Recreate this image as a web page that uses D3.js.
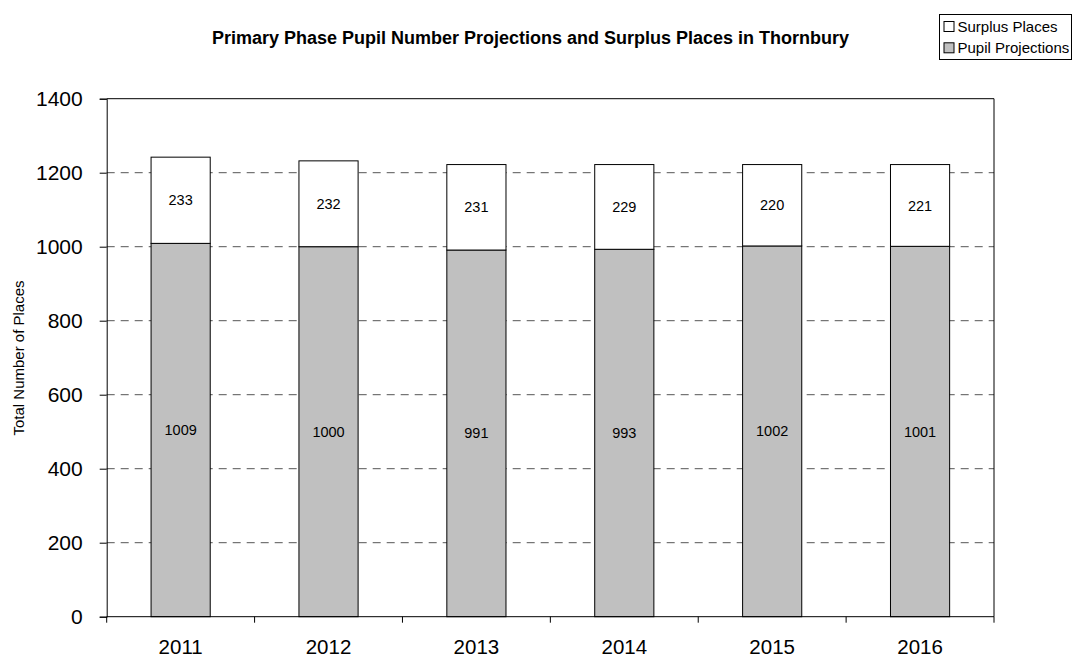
<!DOCTYPE html>
<html lang="en">
<head>
<meta charset="utf-8">
<title>Thornbury projections</title>
<script src="https://cdn.jsdelivr.net/npm/d3@7"></script>
<style>
  body { margin: 0; background: #fff; }
  svg text { font-family: "Liberation Sans", Arial, sans-serif; fill: #000; }
</style>
</head>
<body>
<div id="chart"></div>
<script>
// data
var years = ["2011", "2012", "2013", "2014", "2015", "2016"];
var pupils = [1009, 1000, 991, 993, 1002, 1001];
var surplus = [233, 232, 231, 229, 220, 221];
var yTicks = [0, 200, 400, 600, 800, 1000, 1200, 1400];

var W = 1072, H = 657;
var margin = {top: 98.7, right: 78, bottom: 40.3, left: 106.7};
var width = W - margin.left - margin.right;
var height = H - margin.top - margin.bottom;

var svg = d3.select("#chart").append("svg")
  .attr("width", W).attr("height", H);

var g = svg.append("g")
  .attr("transform", "translate(" + margin.left + "," + margin.top + ")");

var x = d3.scaleBand().domain(years).range([0, width]).paddingInner(0).paddingOuter(0);
var y = d3.scaleLinear().domain([0, 1400]).range([height, 0]);
var barW = x.bandwidth() * 0.4;

// dashed grid
g.selectAll(".grid").data(yTicks.filter(function(d) { return d > 0 && d < 1400; }))
  .enter().append("line")
  .attr("x1", 0).attr("x2", width)
  .attr("y1", function(d) { return y(d); }).attr("y2", function(d) { return y(d); })
  .attr("stroke", "#555").attr("stroke-width", 1)
  .attr("stroke-dasharray", "8,6");

// top and right border of plot area
g.append("path")
  .attr("d", "M0," + y(1400) + "H" + width + "V" + height)
  .attr("fill", "none").attr("stroke", "#000").attr("stroke-width", 1);

var rows = years.map(function(yr, i) { return {year: yr, p: pupils[i], s: surplus[i]}; });

// pupil bars
g.selectAll(".pupil").data(rows).enter().append("rect")
  .attr("x", function(d) { return x(d.year) + (x.bandwidth() - barW) / 2; })
  .attr("width", barW)
  .attr("y", function(d) { return y(d.p); })
  .attr("height", function(d) { return y(0) - y(d.p); })
  .attr("fill", "#c0c0c0").attr("stroke", "#000").attr("stroke-width", 1);

// surplus bars
g.selectAll(".surplus").data(rows).enter().append("rect")
  .attr("x", function(d) { return x(d.year) + (x.bandwidth() - barW) / 2; })
  .attr("width", barW)
  .attr("y", function(d) { return y(d.p + d.s); })
  .attr("height", function(d) { return y(d.p) - y(d.p + d.s); })
  .attr("fill", "#fff").attr("stroke", "#000").attr("stroke-width", 1);

// labels in segments
g.selectAll(".lp").data(rows).enter().append("text")
  .attr("x", function(d) { return x(d.year) + x.bandwidth() / 2; })
  .attr("y", function(d) { return y(d.p / 2); })
  .attr("dy", "0.35em").attr("text-anchor", "middle")
  .style("font-size", "14.5px")
  .text(function(d) { return d.p; });

g.selectAll(".ls").data(rows).enter().append("text")
  .attr("x", function(d) { return x(d.year) + x.bandwidth() / 2; })
  .attr("y", function(d) { return y(d.p + d.s / 2); })
  .attr("dy", "0.35em").attr("text-anchor", "middle")
  .style("font-size", "14.5px")
  .text(function(d) { return d.s; });

// y axis
var yAxis = g.append("g")
  .call(d3.axisLeft(y).tickValues(yTicks).tickFormat(d3.format("d")).tickSize(7).tickPadding(17));
yAxis.select(".domain").attr("stroke", "#000");
yAxis.selectAll(".tick line").attr("stroke", "#000");
yAxis.selectAll("text").style("font-size", "21px")
  .style("font-family", "'Liberation Sans', Arial, sans-serif");

// x axis: ticks between categories
var xAxis = g.append("g").attr("transform", "translate(0," + height + ")");
xAxis.append("line").attr("x1", 0).attr("x2", width).attr("stroke", "#000");
xAxis.selectAll(".xt").data(d3.range(years.length + 1)).enter().append("line")
  .attr("x1", function(i) { return i * x.step(); })
  .attr("x2", function(i) { return i * x.step(); })
  .attr("y1", 0).attr("y2", 6).attr("stroke", "#000");
xAxis.selectAll(".xl").data(years).enter().append("text")
  .attr("x", function(d) { return x(d) + x.bandwidth() / 2; })
  .attr("y", 37.5).attr("text-anchor", "middle")
  .style("font-size", "20.5px")
  .text(function(d) { return d; });

// y axis title
svg.append("text")
  .attr("transform", "translate(24,358) rotate(-90)")
  .attr("text-anchor", "middle")
  .style("font-size", "15px")
  .text("Total Number of Places");

// title
svg.append("text")
  .attr("x", 530.5).attr("y", 44)
  .attr("text-anchor", "middle")
  .style("font-size", "18px").style("font-weight", "bold")
  .text("Primary Phase Pupil Number Projections and Surplus Places in Thornbury");

// legend
var leg = svg.append("g").attr("transform", "translate(939.5,14.5)");
leg.append("rect").attr("x", 0).attr("y", 0).attr("width", 132).attr("height", 45)
  .attr("fill", "#fff").attr("stroke", "#000").attr("stroke-width", 1);
var legItems = [{name: "Surplus Places", fill: "#fff"}, {name: "Pupil Projections", fill: "#c0c0c0"}];
legItems.forEach(function(it, i) {
  leg.append("rect").attr("x", 4.5).attr("y", 7 + i * 21.3).attr("width", 10).attr("height", 10)
    .attr("fill", it.fill).attr("stroke", "#000");
  leg.append("text").attr("x", 18).attr("y", 17.5 + i * 21.3)
    .style("font-size", "15px").text(it.name);
});
</script>
</body>
</html>
